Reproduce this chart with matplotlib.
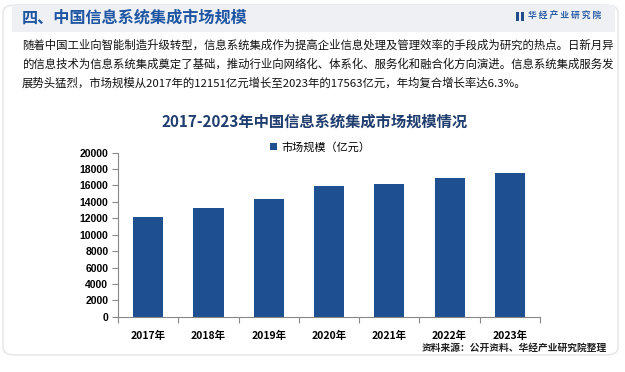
import matplotlib
matplotlib.use("Agg")
import matplotlib.pyplot as plt
from matplotlib.patches import FancyBboxPatch, Rectangle

plt.rcParams['font.family'] = ['Noto Sans CJK SC', 'DejaVu Sans']

years = ["2017年", "2018年", "2019年", "2020年", "2021年", "2022年", "2023年"]
market = [12151, 13200, 14400, 15900, 16200, 16900, 17563]
yticks = list(range(0, 20001, 2000))

header = "四、中国信息系统集成市场规模"
body = [
    "随着中国工业向智能制造升级转型，信息系统集成作为提高企业信息处理及管理效率的手段成为研究的热点。日新月异",
    "的信息技术为信息系统集成奠定了基础，推动行业向网络化、体系化、服务化和融合化方向演进。信息系统集成服务发",
    "展势头猛烈，市场规模从2017年的12151亿元增长至2023年的17563亿元，年均复合增长率达6.3%。",
]
title = "2017-2023年中国信息系统集成市场规模情况"
legend_label = "市场规模（亿元）"
source = "资料来源：公开资料、华经产业研究院整理"

W, H = 625, 372
fig = plt.figure(figsize=(W / 100, H / 100), dpi=100)
fig.patch.set_facecolor("white")

# card and header band (kept behind the axes)
card = FancyBboxPatch((3 / W, 1 - 355 / H), 615 / W, 350 / H,
                      boxstyle="round,pad=0,rounding_size=0.02",
                      transform=fig.transFigure, facecolor="white",
                      edgecolor="#e3e5e8", linewidth=1.0, zorder=-10)
fig.patches.append(card)
band = Rectangle((12 / W, 1 - 32 / H), 603 / W, 27 / H, transform=fig.transFigure,
                 facecolor="#eef0f4", edgecolor="none", zorder=-9)
fig.patches.append(band)

fig.text(22 / W, 1 - 18 / H, header, fontsize=11.6, fontweight="bold",
         color="#1f56a3", va="center", ha="left")
# logo
for dx in (516, 521):
    fig.patches.append(Rectangle((dx / W, 1 - 21 / H), 3 / W, 9 / H,
                                 transform=fig.transFigure, facecolor="#1f4e8c",
                                 edgecolor="none"))
fig.text(528 / W, 1 - 16.5 / H, "华 经 产 业 研 究 院", fontsize=6.3,
         fontweight="bold", color="#2d5fa6", va="center", ha="left")

for i, line in enumerate(body):
    fig.text(22 / W, 1 - (45 + i * 19) / H, line, fontsize=8.2, color="#111111",
             va="center", ha="left")

fig.text(315 / W, 1 - 122 / H, title, fontsize=11, fontweight="bold",
         color="#1f3d6e", ha="center", va="center")

ax = fig.add_axes([118 / W, 1 - 316.7 / H, 422 / W, 164 / H])
x = range(len(years))
bars = ax.bar(x, market, width=0.5, color="#1e4f91", label=legend_label)
ax.set_xlim(-0.5, len(years) - 0.5)
ax.set_ylim(0, 20000)
ax.set_yticks(yticks)
ax.set_yticklabels([str(v) for v in yticks], fontsize=7.5, fontweight="bold",
                   family=['Liberation Sans', 'DejaVu Sans'])
ax.set_xticks([i + 0.5 for i in range(-1, len(years))])
ax.set_xticklabels([])
ax.set_xticks(list(x), minor=True)
ax.set_xticklabels(years, minor=True, fontsize=7.5, fontweight="bold")
ax.tick_params(axis="x", which="minor", length=0, pad=10)
ax.tick_params(axis="x", which="major", length=4, color="#888888")
ax.tick_params(axis="y", length=4, color="#888888", pad=3)
for s in ("top", "right"):
    ax.spines[s].set_visible(False)
for s in ("left", "bottom"):
    ax.spines[s].set_color("#888888")
    ax.spines[s].set_linewidth(0.8)
ax.set_facecolor("none")

fig.legend(loc="center left", bbox_to_anchor=(264 / W, 1 - 147 / H), frameon=False,
           fontsize=8, handlelength=0.7, handleheight=0.7, handletextpad=0.4,
           borderpad=0)

fig.text(607 / W, 1 - 348 / H, source, fontsize=7, fontweight="bold",
         color="#222222", ha="right", va="center")

fig.savefig("out.png", dpi=100)
